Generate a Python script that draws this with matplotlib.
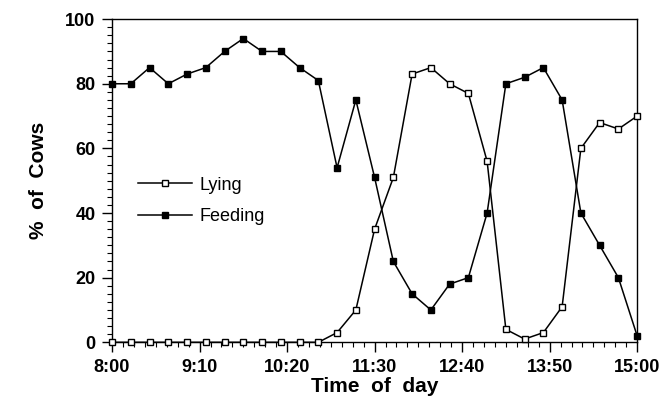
import matplotlib
matplotlib.use("Agg")
import matplotlib.pyplot as plt
from matplotlib.ticker import MultipleLocator

plt.rcParams['font.family'] = ['Liberation Sans', 'DejaVu Sans']

minutes = [i * 15 for i in range(29)]  # minutes after 8:00
lying = [0, 0, 0, 0, 0, 0, 0, 0, 0, 0, 0, 0, 3, 10, 35, 51, 83, 85, 80, 77,
         56, 4, 1, 3, 11, 60, 68, 66, 70]
feeding = [80, 80, 85, 80, 83, 85, 90, 94, 90, 90, 85, 81, 54, 75, 51, 25, 15,
           10, 18, 20, 40, 80, 82, 85, 75, 40, 30, 20, 2]
tick_pos = [0, 70, 140, 210, 280, 350, 420]
tick_labels = ['8:00', '9:10', '10:20', '11:30', '12:40', '13:50', '15:00']
y_ticks = [0, 20, 40, 60, 80, 100]

fig = plt.figure(figsize=(6.63, 4.07), dpi=100)
ax = fig.add_axes([0.169, 0.159, 0.792, 0.794])

ax.plot(minutes, feeding, color='black', lw=1.1, marker='s', ms=5,
        mfc='black', mec='black', label='Feeding', clip_on=False, zorder=3)
ax.plot(minutes, lying, color='black', lw=1.1, marker='s', ms=5,
        mfc='white', mec='black', mew=1.0, label='Lying', clip_on=False, zorder=4)

ax.set_xlim(0, 420)
ax.set_ylim(0, 100)
ax.set_xticks(tick_pos)
ax.set_xticklabels(tick_labels)
ax.set_yticks(y_ticks)
ax.xaxis.set_minor_locator(MultipleLocator(70 / 8))
ax.yaxis.set_minor_locator(MultipleLocator(2.5))
ax.tick_params(which='major', direction='out', length=7, width=1.0,
               labelsize=13, pad=5)
ax.tick_params(which='minor', direction='out', length=3.5, width=0.8)
for lab in ax.get_xticklabels() + ax.get_yticklabels():
    lab.set_fontweight('bold')
for s in ax.spines.values():
    s.set_linewidth(1.0)

ax.set_xlabel('Time  of  day', fontsize=15, fontweight='bold', labelpad=1)
ax.set_ylabel('%  of  Cows', fontsize=15, fontweight='bold', labelpad=12)

h, l = ax.get_legend_handles_labels()
ax.legend([h[1], h[0]], [l[1], l[0]], loc='upper left',
          bbox_to_anchor=(0.036, 0.535), frameon=False, fontsize=13,
          handlelength=3.0, handletextpad=0.4, labelspacing=0.8,
          numpoints=1, borderaxespad=0)

fig.savefig('out.png', dpi=100)
